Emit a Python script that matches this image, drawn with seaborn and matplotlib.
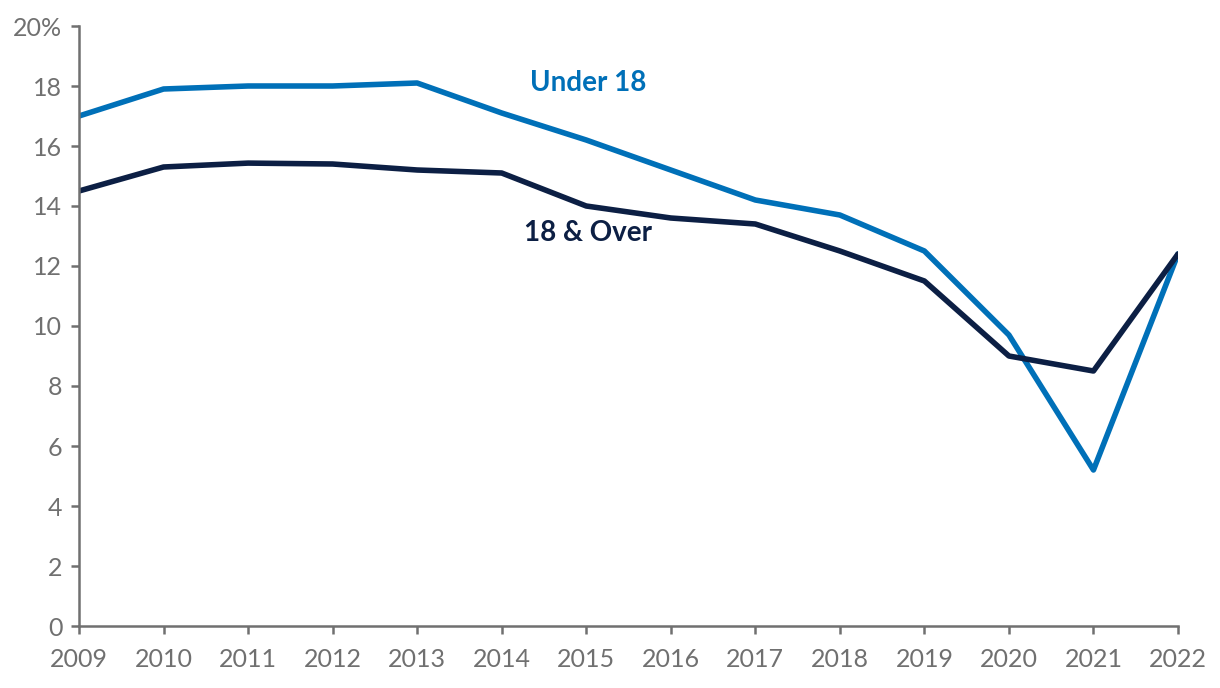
import matplotlib
matplotlib.use("Agg")
import matplotlib.pyplot as plt
import seaborn as sns
import pandas as pd

years = list(range(2009, 2023))
under_18 = [17.0, 17.9, 18.0, 18.0, 18.1, 17.1, 16.2, 15.2, 14.2, 13.7, 12.5, 9.7, 5.2, 12.4]
over_18 = [14.5, 15.3, 15.43, 15.4, 15.2, 15.1, 14.0, 13.6, 13.4, 12.5, 11.5, 9.0, 8.5, 12.4]
y_ticks = [0, 2, 4, 6, 8, 10, 12, 14, 16, 18, 20]
y_tick_labels = ["0", "2", "4", "6", "8", "10", "12", "14", "16", "18", "20%"]

sns.set_style("white")
plt.rcParams['font.family'] = ['Lato', 'DejaVu Sans']

df = pd.DataFrame({
    "year": years * 2,
    "value": under_18 + over_18,
    "group": ["Under 18"] * len(years) + ["18 & Over"] * len(years),
})

blue = "#0070B8"
navy = "#0C1F44"
gray = "#707070"

fig = plt.figure(figsize=(12.2, 6.88), dpi=100)
ax = fig.add_axes([79 / 1220, 1 - 626 / 688, (1178 - 79) / 1220, 600 / 688])
sns.lineplot(data=df, x="year", y="value", hue="group",
             palette={"Under 18": blue, "18 & Over": navy},
             linewidth=4, legend=False, ax=ax)

ax.set_xlim(2009, 2022)
ax.set_ylim(0, 20)
ax.set_xticks(years)
ax.set_xticklabels([str(y) for y in years])
ax.set_yticks(y_ticks)
ax.set_yticklabels(y_tick_labels)
ax.set_xlabel("")
ax.set_ylabel("")

for s in ["top", "right"]:
    ax.spines[s].set_visible(False)
for s in ["left", "bottom"]:
    ax.spines[s].set_color(gray)
    ax.spines[s].set_linewidth(1.8)
ax.tick_params(axis="both", direction="out", length=6, width=1.8, color=gray,
               labelcolor=gray, labelsize=18, pad=6, bottom=True, left=True)
ax.tick_params(axis="x", pad=10)

ax.text(2015.02, 18.1, "Under 18", color=blue, fontsize=20, fontweight="bold",
        ha="center", va="center")
ax.text(2015.02, 13.1, "18 & Over", color=navy, fontsize=20, fontweight="bold",
        ha="center", va="center")

fig.savefig("out.png", dpi=100)
